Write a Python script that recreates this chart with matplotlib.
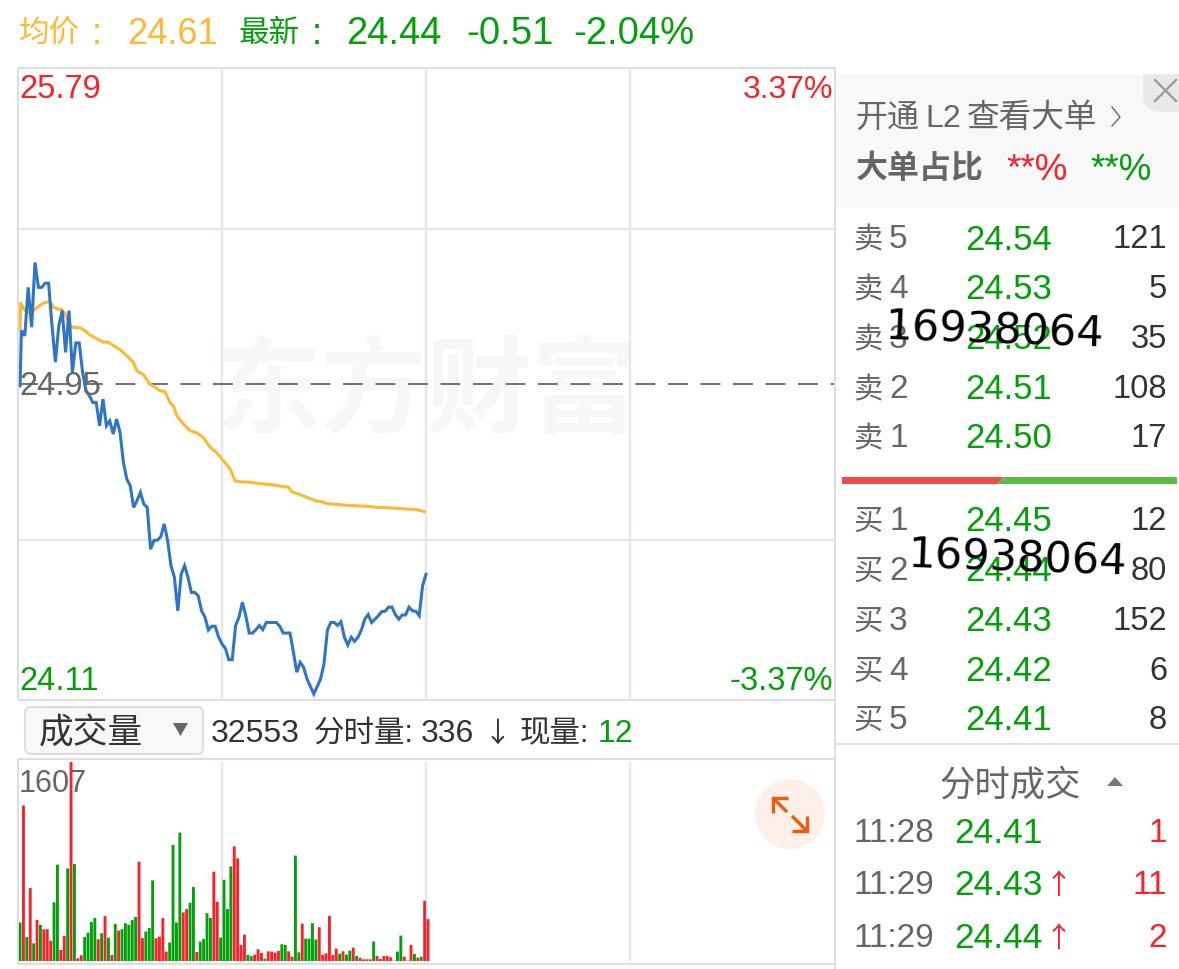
import numpy as np
import matplotlib
matplotlib.use('Agg')
import matplotlib.pyplot as plt
from matplotlib.patches import Rectangle, Polygon, Circle, FancyBboxPatch

plt.rcParams['font.family'] = ['Liberation Sans', 'Noto Sans CJK SC', 'DejaVu Sans']

# minute prices
price = [24.945, 25.092, 25.078, 25.207, 25.101, 25.273, 25.207, 25.207, 25.218, 25.218,
         25.105, 25.008, 25.105, 25.145, 25.034, 25.145, 24.981, 25.059, 25.059, 24.981,
         24.932, 24.919, 24.901, 24.901, 24.839, 24.910, 24.839, 24.852, 24.817, 24.857,
         24.822, 24.742, 24.697, 24.680, 24.622, 24.640, 24.662, 24.631, 24.622, 24.511,
         24.534, 24.535, 24.544, 24.578, 24.534, 24.467, 24.436, 24.347, 24.445, 24.467,
         24.436, 24.396, 24.396, 24.387, 24.347, 24.330, 24.296, 24.306, 24.306, 24.277,
         24.259, 24.247, 24.217, 24.217, 24.308, 24.330, 24.370, 24.334, 24.288, 24.288,
         24.297, 24.308, 24.297, 24.316, 24.316, 24.316, 24.316, 24.306, 24.288, 24.288,
         24.288, 24.237, 24.184, 24.210, 24.197, 24.166, 24.146, 24.126, 24.146, 24.166,
         24.206, 24.296, 24.316, 24.316, 24.308, 24.318, 24.277, 24.256, 24.277, 24.266,
         24.277, 24.296, 24.325, 24.337, 24.316, 24.325, 24.334, 24.345, 24.346, 24.357,
         24.357, 24.337, 24.325, 24.336, 24.336, 24.357, 24.347, 24.346, 24.334, 24.414,
         24.444]

# average line, minute and value read at its bends
avg_minute = [0, 0.2, 1.2, 2.4, 3.4, 4.4, 5.4, 6.9, 8.8, 9.8, 11.3, 12.3, 13.3, 14.3, 15.3, 17.6,
              19.1, 20.6, 22.5, 24.5, 26, 27.5, 29.4, 31.4, 33.3, 34.3, 36.3, 38.2, 40.2, 41.2,
              42.6, 44.1, 45.1, 46.1, 48, 50, 52, 53.9, 55.9, 57.8, 59.8, 61.8, 63.2, 64.7, 67.6,
              70.6, 74.5, 77.5, 78.9, 79.9, 81.4, 84.3, 86.8, 88.7, 90.2, 97.1, 102, 104.9, 108.8,
              111.3, 116.7, 118.8]
avg_price = [25.096, 25.165, 25.149, 25.139, 25.140, 25.149, 25.156, 25.165, 25.169, 25.154,
             25.149, 25.148, 25.136, 25.114, 25.101, 25.100, 25.092, 25.080, 25.071, 25.061,
             25.061, 25.052, 25.041, 25.025, 25.008, 24.985, 24.975, 24.950, 24.938, 24.932,
             24.930, 24.901, 24.892, 24.866, 24.844, 24.826, 24.820, 24.808, 24.782, 24.768,
             24.746, 24.724, 24.693, 24.690, 24.689, 24.685, 24.682, 24.677, 24.676, 24.664,
             24.659, 24.649, 24.640, 24.637, 24.632, 24.627, 24.625, 24.622, 24.621, 24.619,
             24.616, 24.611]

volume = [311, 1256, 194, 589, 143, 332, 292, 257, 257, 162, 473, 778, 89, 203, 748, 1607, 783, 22, 46,
          194, 230, 316, 348, 176, 224, 362, 189, 49, 300, 246, 257, 305, 292, 332, 356, 802, 184, 238,
          267, 651, 184, 197, 346, 76, 149, 937, 311, 1037, 392, 419, 470, 597, 73, 157, 178, 386, 348,
          721, 478, 189, 656, 419, 764, 926, 829, 130, 213, 49, 38, 51, 95, 65, 19, 78, 76, 68, 81, 135,
          130, 78, 35, 851, 70, 302, 181, 181, 305, 173, 273, 49, 62, 365, 49, 100, 59, 78, 51, 84, 108,
          41, 27, 14, 14, 14, 157, 41, 16, 41, 41, 30, 3, 76, 205, 35, 3, 130, 57, 27, 35, 486, 338]
vol_side = list('GRGRGRGRRRGGRRGRGRR'
                'GGGGRGRGRGRGGGGGRRG'
                'GGRRRRGGGGRRGGRGGGG'
                'RRGGGGRRRRGGRRRGRRRRG'
                'GRRGGRGGGGRRRRRRGRGGR'
                'GRRRRGRRRRRRGGRRRGRGRR')

ask_levels = ['卖 5', '卖 4', '卖 3', '卖 2', '卖 1']
ask_prices = ['24.54', '24.53', '24.52', '24.51', '24.50']
ask_sizes = ['121', '5', '35', '108', '17']
bid_levels = ['买 1', '买 2', '买 3', '买 4', '买 5']
bid_prices = ['24.45', '24.44', '24.43', '24.42', '24.41']
bid_sizes = ['12', '80', '152', '6', '8']
trade_times = ['11:28', '11:29', '11:29']
trade_prices = ['24.41', '24.43', '24.44']
trade_sizes = ['1', '11', '2']

RED = '#F8222B'
GREEN = '#04A00C'
ORANGE = '#FDB835'
BLUE = '#2F75C4'
GRAY = '#666666'
DARK = '#333333'
GRID = '#E3E6ED'
EDGE = '#D5D8E0'

fig = plt.figure(figsize=(11.79, 9.70), dpi=100, facecolor='white')
W, H = 1179.0, 970.0


def px_axes(x0, y0, x1, y1, z):
    a = fig.add_axes([x0 / W, 1 - y1 / H, (x1 - x0) / W, (y1 - y0) / H], zorder=z)
    a.patch.set_alpha(0)
    for s in a.spines.values():
        s.set_visible(False)
    a.tick_params(length=0, labelbottom=False, labelleft=False)
    return a


# background layer in pixel coordinates
bg = px_axes(0, 0, W, H, 0)
bg.set_xlim(0, W)
bg.set_ylim(H, 0)
bg.axis('off')
bg.text(427, 396, '东方财富', fontsize=76, fontweight='bold', color='#F7F7F7', ha='center', va='center')

# price panel
ax = px_axes(18, 69, 834, 701, 1)
ax.set_xlim(-0.6, 239.4)
ax.set_ylim(24.11, 25.79)
ax.set_xticks([59.4, 119.4, 179.4])
ax.set_yticks([24.535, 25.362])
ax.grid(True, color=GRID, lw=1.6)
ax.set_axisbelow(True)
ax.axhline(24.95, color=GRAY, lw=1.3, dashes=(11, 7))
minutes = np.maximum(np.arange(len(price)) - 0.6, 0)
ax.plot(avg_minute, avg_price, color=ORANGE, lw=2.2, solid_joinstyle='round')
ax.plot(minutes, price, color=BLUE, lw=2.2, solid_joinstyle='miter', clip_on=False)

# volume panel
vol = px_axes(18, 763, 834, 962, 1)
vol.set_xlim(-0.6, 239.4)
vol.set_ylim(0, 1607)
vol.set_xticks([59.4, 119.4, 179.4])
vol.set_yticks([])
vol.grid(True, axis='x', color=GRID, lw=1.6)
vol.set_axisbelow(True)
bars = vol.bar(np.arange(len(volume)), volume, width=0.85,
               color=[RED if s == 'R' else GREEN for s in vol_side])
for b in bars:
    b.set_snap(False)

# everything else in pixel coordinates on top
fg = px_axes(0, 0, W, H, 2)
fg.set_xlim(0, W)
fg.set_ylim(H, 0)
fg.axis('off')


def txt(x, y, s, size, color, ha='left', **kw):
    return fg.text(x, y, s, fontsize=size, color=color, ha=ha, va='center', **kw)


def hline(x0, x1, y, color=EDGE, lw=1.2):
    fg.plot([x0, x1], [y, y], color=color, lw=lw, solid_capstyle='butt')


def vline(x, y0, y1, color=EDGE, lw=1.2):
    fg.plot([x, x], [y0, y1], color=color, lw=lw, solid_capstyle='butt')


# frame lines
hline(18, 835, 69)
hline(18, 835, 701)
hline(18, 835, 760)
hline(18, 835, 965)
vline(18, 69, 701)
vline(18, 760, 965)
vline(835, 69, 970)
hline(835, 1179, 745)

# header
txt(19, 34, '均价', 22, ORANGE)
txt(92, 34, ':', 26, ORANGE)
txt(127, 34, '24.61', 26, ORANGE)
txt(239, 34, '最新', 22, GREEN)
txt(312, 34, ':', 26, GREEN)
txt(346, 34, '24.44', 27.5, GREEN)
txt(466, 34, '-0.51', 27.5, GREEN)
txt(573, 34, '-2.04%', 27.5, GREEN)

# axis labels
txt(19, 90, '25.79', 23.5, RED)
txt(19, 387, '24.95', 23.5, GRAY)
txt(19, 682, '24.11', 23.5, GREEN)
txt(833, 90, '3.37%', 23, RED, ha='right')
txt(833, 682, '-3.37%', 23.5, GREEN, ha='right')
txt(19, 784, '1607', 22, GRAY)

# volume selector row
fg.add_patch(FancyBboxPatch((28, 711), 172, 41, boxstyle='round,pad=3,rounding_size=6',
                            fc='#F8F8FA', ec=EDGE, lw=1.2))
txt(39, 734, '成交量', 25, DARK)
fg.add_patch(Polygon([[173, 724], [188, 724], [180.5, 737]], fc='#666666', ec='none'))
txt(211, 734, '32553', 23, DARK)
txt(314, 734, '分时量:', 22, DARK)
txt(421, 734, '336', 23, DARK)
txt(484, 734, '↓', 20, DARK, family='Noto Sans CJK SC')
txt(520, 734, '现量:', 22, DARK)
txt(598, 734, '12', 23, GREEN)

# expand button
fg.add_patch(Circle((790, 815), 35, fc='#FDF0E9', ec='none'))
for pts in ([[773, 799], [787, 813]], [[773, 814], [773, 799], [788, 799]],
            [[807, 832], [792, 817]], [[807, 817], [807, 832], [792, 832]]):
    p = np.array(pts)
    fg.plot(p[:, 0], p[:, 1], color='#F0590E', lw=2.4, solid_joinstyle='miter', solid_capstyle='butt')

# L2 banner
fg.add_patch(Rectangle((837, 75), 342, 134, fc='#F8F8FB', ec='none'))
corner = FancyBboxPatch((1143, 55), 60, 58, boxstyle='round,pad=0,rounding_size=18', fc='#E9E9EC', ec='none')
fg.add_patch(corner)
corner.set_clip_path(Rectangle((1143, 75), 36, 38, transform=fg.transData))
fg.plot([1155, 1176], [81, 102], color='#999999', lw=1.6)
fg.plot([1155, 1176], [102, 81], color='#999999', lw=1.6)
txt(855, 119, '开通', 23, GRAY)
txt(925, 119, 'L2', 23, GRAY)
txt(967, 119, '查看大单', 23.5, GRAY)
fg.plot([1112, 1120, 1112], [108, 118, 127], color=GRAY, lw=1.0)
txt(856, 170, '大单占比', 23, GRAY, fontweight='bold')
txt(1006, 170, '**%', 26.5, RED)
txt(1090, 170, '**%', 26.5, GREEN)

# order book
for y, lev, pr, sz in zip([240, 290, 340, 390, 439], ask_levels, ask_prices, ask_sizes):
    txt(853, y, lev[0], 21, GRAY)
    txt(889, y, lev[-1], 24, GRAY)
    txt(1052, y, pr, 25, GREEN, ha='right')
    txt(1167, y, sz, 23.5, DARK, ha='right')
for y, lev, pr, sz in zip([522, 572, 622, 672, 721], bid_levels, bid_prices, bid_sizes):
    txt(853, y, lev[0], 21, GRAY)
    txt(889, y, lev[-1], 24, GRAY)
    txt(1052, y, pr, 25, GREEN, ha='right')
    txt(1167, y, sz, 23.5, DARK, ha='right')

# buy/sell ratio strip
fg.add_patch(Polygon([[842, 478], [1004, 478], [997, 485], [842, 485]], fc='#EE4B4B', ec='none'))
fg.add_patch(Polygon([[1004, 478], [1177, 478], [1177, 485], [997, 485]], fc='#5DBB46', ec='none'))

# time and sales
txt(939, 786, '分时成交', 25.5, GRAY)
fg.add_patch(Polygon([[1107, 787], [1123, 787], [1115, 778]], fc='#77777F', ec='none'))
for y, t, pr, sz in zip([834, 886, 939], trade_times, trade_prices, trade_sizes):
    txt(853, y, t, 24, GRAY)
    txt(1043, y, pr, 25.5, GREEN, ha='right')
    txt(1167, y, sz, 24, RED, ha='right')
txt(1045, 886, '↑', 20, RED, family='Noto Sans CJK SC')
txt(1045, 939, '↑', 20, RED, family='Noto Sans CJK SC')

# stamped numbers across the order book
txt(994, 331, '16938064', 31, 'black', ha='center', family='DejaVu Sans', rotation=-2, rotation_mode='anchor')
txt(1017, 559, '16938064', 31, 'black', ha='center', family='DejaVu Sans', rotation=-2, rotation_mode='anchor')

print(len(price), len(volume), len(vol_side))
fig.savefig('out.png', dpi=100, facecolor='white')
